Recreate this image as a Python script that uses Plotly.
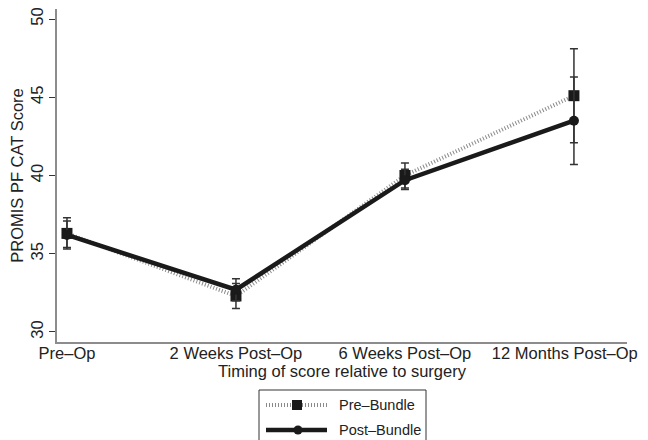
import plotly.graph_objects as go

categories = ["Pre\u2013Op", "2 Weeks Post\u2013Op", "6 Weeks Post\u2013Op", "12 Months Post\u2013Op\u00a0\u00a0\u00a0\u00a0"]
x_pos = [0, 1, 2, 3]

pre_mean = [36.3, 32.3, 40.0, 45.1]
pre_lo = [35.3, 31.5, 39.2, 42.1]
pre_hi = [37.3, 33.1, 40.8, 48.1]

post_mean = [36.2, 32.7, 39.7, 43.5]
post_lo = [35.4, 32.0, 39.1, 40.7]
post_hi = [37.1, 33.4, 40.4, 46.3]

y_ticks = [30, 35, 40, 45, 50]
series_names = ["Pre\u2013Bundle", "Post\u2013Bundle"]

FONT = "Liberation Sans, Arial, Helvetica, sans-serif"
# the page body has an 8px default margin: size the figure so it ends at the window edge
OFF = 8
W, H = 648 - OFF, 440 - OFF
ML, MR, MT, MB = 57 - OFF, 21, 9 - OFF, 98
PW, PH = W - ML - MR, H - MT - MB

PRE_LINE = dict(color="#8a8a8a", width=4, dash="1px,2px")
POST_LINE = dict(color="#1a1a1a", width=4.5)
MARK = "#1a1a1a"

def px(xpage):
    return (xpage - OFF - ML) / PW

def py(ypage):
    return (H - MB - (ypage - OFF)) / PH

fig = go.Figure()

fig.add_trace(go.Scatter(
    x=x_pos, y=pre_mean, name=series_names[0], mode="lines+markers",
    line=PRE_LINE,
    marker=dict(symbol="square", size=11, color=MARK),
    error_y=dict(type="data", symmetric=False,
                 array=[h - m for h, m in zip(pre_hi, pre_mean)],
                 arrayminus=[m - l for m, l in zip(pre_mean, pre_lo)],
                 color="#333333", thickness=1.5, width=4),
))

fig.add_trace(go.Scatter(
    x=x_pos, y=post_mean, name=series_names[1], mode="lines+markers",
    line=POST_LINE,
    marker=dict(symbol="circle", size=10, color=MARK),
    error_y=dict(type="data", symmetric=False,
                 array=[h - m for h, m in zip(post_hi, post_mean)],
                 arrayminus=[m - l for m, l in zip(post_mean, post_lo)],
                 color="#333333", thickness=1.5, width=4),
))

# Manual legend (Stata style box running past the bottom edge)
shapes = [
    dict(type="rect", xref="paper", yref="paper",
         x0=px(259), x1=px(426), y0=py(452), y1=py(390),
         line=dict(color="#333333", width=1), fillcolor="white", layer="above"),
    dict(type="line", xref="paper", yref="paper",
         x0=px(266), x1=px(327), y0=py(405), y1=py(405), line=PRE_LINE, layer="above"),
    dict(type="rect", xref="paper", yref="paper",
         x0=px(292), x1=px(302), y0=py(410), y1=py(400),
         line=dict(width=0), fillcolor=MARK, layer="above"),
    dict(type="line", xref="paper", yref="paper",
         x0=px(266), x1=px(327), y0=py(430), y1=py(430), line=POST_LINE, layer="above"),
    dict(type="circle", xref="paper", yref="paper",
         x0=px(293.5), x1=px(302.5), y0=py(434.5), y1=py(425.5),
         line=dict(width=0), fillcolor=MARK, layer="above"),
]
annotations = [
    dict(text=series_names[0], xref="paper", yref="paper", x=px(337), y=py(405),
         xanchor="left", yanchor="middle", showarrow=False, font=dict(size=14.5)),
    dict(text=series_names[1], xref="paper", yref="paper", x=px(337), y=py(430),
         xanchor="left", yanchor="middle", showarrow=False, font=dict(size=14.5)),
]

fig.update_layout(
    width=W, height=H,
    margin=dict(l=ML, r=MR, t=MT, b=MB),
    paper_bgcolor="white", plot_bgcolor="white",
    font=dict(family=FONT, size=16.5, color="#222222"),
    showlegend=False,
    shapes=shapes,
    annotations=annotations,
)

fig.update_xaxes(
    range=[-0.059, 3.314], automargin=False,
    tickmode="array", tickvals=x_pos, ticktext=categories,
    showline=True, linecolor="#8c8c8c", linewidth=1.5,
    ticks="", ticklabelstandoff=-5, ticklabeloverflow="allow",
    showgrid=False, zeroline=False,
    title=dict(text="Timing of score relative to surgery", standoff=0, font=dict(size=16.5)),
    tickfont=dict(size=16.5),
)

fig.update_yaxes(
    range=[29.36, 50.64], automargin=False,
    tickmode="array", tickvals=y_ticks,
    showline=True, linecolor="#8c8c8c", linewidth=1.5,
    ticks="outside", ticklen=6, tickcolor="#333333", tickwidth=1,
    tickangle=-90, ticklabelstandoff=0, ticklabeloverflow="allow",
    showgrid=False, zeroline=False,
    title=dict(text="PROMIS PF CAT Score", standoff=0, font=dict(size=16.5)),
    tickfont=dict(size=16.5),
)

fig.write_html("out.html")
